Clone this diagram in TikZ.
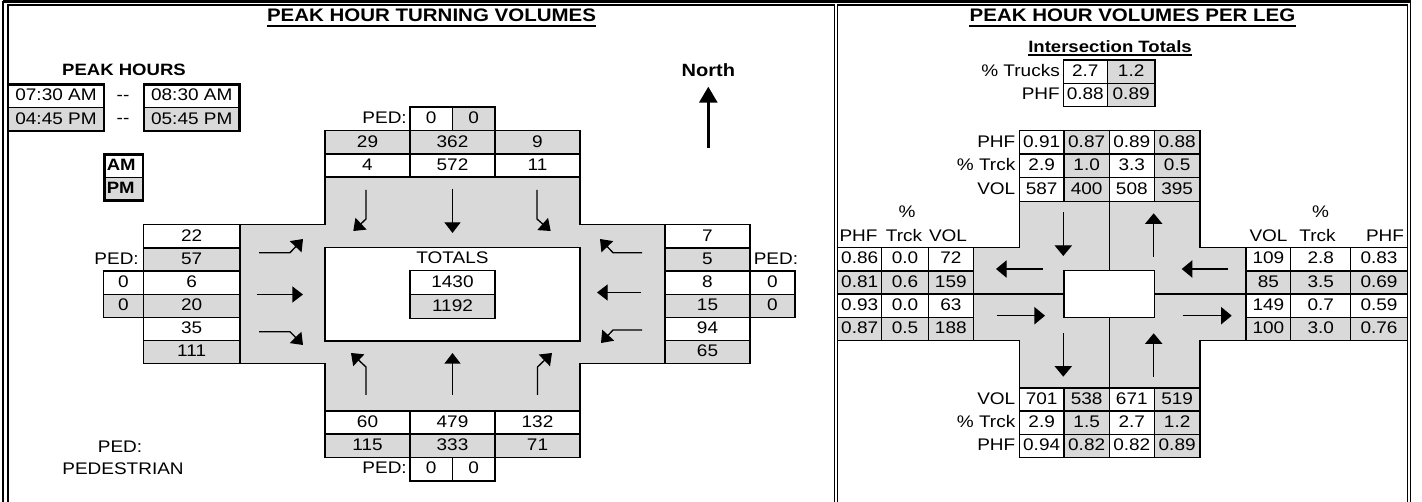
\documentclass[tikz,border=0pt]{standalone}
\usepackage{fontspec}
\setmainfont[FakeStretch=1.13]{Liberation Sans}
\usetikzlibrary{arrows.meta,calc}
\definecolor{cellgray}{RGB}{217,217,217}

% one table cell: name, x1, y1, x2, y2, fill, text
\newcommand{\volcell}[7]{%
  \draw[grid,fill=#6] (#2,#3) rectangle (#4,#5);
  \node[txt] (#1) at ($(#2,#3)!.5!(#4,#5)$) {#7};}

\begin{document}
\begin{tikzpicture}[x=0.75pt,y=-0.75pt,
font=\fontsize{12.6}{14}\selectfont,
grid/.style={line width=1.1pt},
frame/.style={line width=1.1pt},
txt/.style={inner sep=0pt,text height=.72em,text depth=0pt},
hd/.style={txt,font=\fontsize{13.6}{16}\selectfont\bfseries},
bld/.style={txt,font=\fontsize{12.3}{14}\selectfont\bfseries},
turn/.style={line width=1pt,-{Triangle[width=12pt,length=8pt]}},
flow/.style={line width=1pt,-{Triangle[width=13pt,length=8pt]}}]
\useasboundingbox (0,0) rectangle (1422,502);

% frames
\draw[line width=1.9pt] (3,1.5) -- (1410.5,1.5);
\draw[frame] (3,1.5) -- (3,502);
\draw[frame] (1410.5,1.5) -- (1410.5,502);
\draw[frame] (8,502) -- (8,5) -- (834.3,5) -- (834.3,502);
\draw[frame] (837.7,502) -- (837.7,5) -- (1407.3,5) -- (1407.3,502);

%%%% left panel: turning volumes
\node[hd] (ltitle) at (431.5,17) {PEAK HOUR TURNING VOLUMES};
\draw[line width=1.5pt] ([yshift=-3pt]ltitle.base west) -- ([yshift=-3pt]ltitle.base east);
\node[bld] (peak) at (124,71) {PEAK HOURS};
\volcell{amfrom}{8}{84.5}{104}{107.5}{white}{07:30 AM}
\volcell{pmfrom}{8}{107.5}{104}{131}{cellgray}{04:45 PM}
\volcell{amto}{144}{84.5}{239.5}{107.5}{white}{08:30 AM}
\volcell{pmto}{144}{107.5}{239.5}{131}{cellgray}{05:45 PM}
\draw[line width=2.2pt] (8,84.5) rectangle (104,131);
\draw[line width=2.2pt] (144,84.5) rectangle (239.5,131);
\node[txt] (dash1) at (123,95.5) {-{}-};
\node[txt] (dash2) at (123,119) {-{}-};
\draw[grid,fill=white] (104.5,154.5) rectangle (143,177.3);
\draw[grid,fill=cellgray] (104.5,177.3) rectangle (143,200.5);
\draw[line width=1.6pt] (104.5,154.5) rectangle (143,200.5);
\node[bld,anchor=west] (am) at (106.5,166) {AM};
\node[bld,anchor=west] (pm) at (106.5,189) {PM};

% road
\draw[grid,fill=cellgray] (325,177) -- (580,177) -- (580,224.7) -- (665,224.7)
  -- (665,363.3) -- (580,363.3) -- (580,411) -- (325,411) -- (325,363.3)
  -- (240,363.3) -- (240,224.7) -- (325,224.7) -- cycle;
\draw[grid,fill=white] (325,247.7) rectangle (580,341);
\node[txt] (totals) at (452.5,259) {TOTALS};
\volcell{totam}{410}{270.7}{495}{294.3}{white}{1430}
\volcell{totpm}{410}{294.3}{495}{318.3}{cellgray}{1192}

% north approach
\node[txt,anchor=east] (npedl) at (407,118.8) {PED:};
\volcell{nped1}{410}{107}{452.5}{130.7}{white}{0}
\volcell{nped2}{452.5}{107}{495}{130.7}{cellgray}{0}
\foreach \xl/\xr/\na/\nb [count=\i] in {325/410/29/4, 410/495/362/572, 495/580/9/11}{
  \volcell{npm\i}{\xl}{130.7}{\xr}{154}{cellgray}{\na}
  \volcell{nam\i}{\xl}{154}{\xr}{177}{white}{\nb}}

% south approach
\foreach \xl/\xr/\na/\nb [count=\i] in {325/410/60/115, 410/495/479/333, 495/580/132/71}{
  \volcell{sam\i}{\xl}{411}{\xr}{434}{white}{\na}
  \volcell{spm\i}{\xl}{434}{\xr}{457.3}{cellgray}{\nb}}
\node[txt,anchor=east] (spedl) at (407,469) {PED:};
\volcell{sped1}{410}{457.3}{452.5}{481}{white}{0}
\volcell{sped2}{452.5}{457.3}{495}{481}{white}{0}

% west and east approaches
\foreach \ya/\yb/\fc/\wa/\ea [count=\i] in {224.7/248/white/22/7, 248/271/cellgray/57/5,
    271/294.3/white/6/8, 294.3/317.7/cellgray/20/15, 317.7/340.7/white/35/94,
    340.7/363.3/cellgray/111/65}{
  \volcell{w\i}{143.3}{\ya}{240}{\yb}{\fc}{\wa}
  \volcell{e\i}{665}{\ya}{750}{\yb}{\fc}{\ea}}
\node[txt,anchor=east] (wpedl) at (139,259.5) {PED:};
\volcell{wped1}{103.3}{271}{143.3}{294.3}{white}{0}
\volcell{wped2}{103.3}{294.3}{143.3}{317.7}{cellgray}{0}
\node[txt,anchor=west] (epedl) at (753.5,259.5) {PED:};
\volcell{eped1}{750}{271}{795}{294.3}{white}{0}
\volcell{eped2}{750}{294.3}{795}{317.7}{cellgray}{0}

% movement arrows
\draw[turn] (366,190) -- (366,219) -- (353.3,231);
\draw[turn] (452.5,189) -- (452.5,233);
\draw[turn] (537,190) -- (537,219) -- (550.7,231);
\draw[turn] (366,395) -- (366,367) -- (351,353);
\draw[turn] (452.5,395) -- (452.5,353);
\draw[turn] (537.5,395) -- (537.5,367) -- (552,353);
\draw[turn] (259,252.7) -- (290,252.7) -- (303,239);
\draw[turn] (257,294.5) -- (303,294.5);
\draw[turn] (259,331.7) -- (290,331.7) -- (303,345);
\draw[turn] (642,252.7) -- (613,252.7) -- (600,239);
\draw[turn] (641,292.5) -- (597,292.5);
\draw[turn] (642,330) -- (613,330) -- (601,343);

% north sign
\node[bld,font=\fontsize{13.3}{15}\selectfont\bfseries] (north) at (708.3,72) {North};
\draw[line width=2.2pt,-{Triangle[width=13.5pt,length=12pt]}] (708.3,148.3) -- (708.3,86.7);

\node[txt] (pedkey) at (120,448) {PED:};
\node[txt] (pedtxt) at (123,470) {PEDESTRIAN};

%%%% right panel: volumes per leg
\node[hd] (rtitle) at (1132.5,17) {PEAK HOUR VOLUMES PER LEG};
\draw[line width=1.5pt] ([yshift=-3pt]rtitle.base west) -- ([yshift=-3pt]rtitle.base east);
\node[bld] (ittl) at (1110,47.5) {Intersection Totals};
\draw[line width=1.4pt] ([yshift=-1.8pt]ittl.base west) -- ([yshift=-1.8pt]ittl.base east);
\node[txt,anchor=east] (trkl) at (1060,71.7) {\% Trucks};
\node[txt,anchor=east] (phfl) at (1060,95) {PHF};
\volcell{itrk1}{1063.3}{60}{1107.3}{83.3}{white}{2.7}
\volcell{itrk2}{1107.3}{60}{1155}{83.3}{cellgray}{1.2}
\volcell{iphf1}{1063.3}{83.3}{1107.3}{106.7}{white}{0.88}
\volcell{iphf2}{1107.3}{83.3}{1155}{106.7}{cellgray}{0.89}

% road
\draw[grid,fill=cellgray] (1019.3,201.7) -- (1200,201.7) -- (1200,247.5) -- (1246,247.5)
  -- (1246,340.7) -- (1200,340.7) -- (1200,388) -- (1019.3,388) -- (1019.3,340.7)
  -- (973.3,340.7) -- (973.3,247.5) -- (1019.3,247.5) -- cycle;
\draw[grid,fill=white] (1064,270.7) rectangle (1154.3,317.3);
\draw[grid] (1109.3,201.7) -- (1109.3,270.7);
\draw[grid] (1109.3,317.3) -- (1109.3,388);
\draw[grid] (973.3,294) -- (1064,294);
\draw[grid] (1154.3,294) -- (1246,294);

% north and south legs
\foreach \ya/\yb/\lbl/\va/\vb/\vc/\vd [count=\i] in {130.7/154/PHF/0.91/0.87/0.89/0.88,
    154/177.7/\% Trck/2.9/1.0/3.3/0.5, 177.7/201.7/VOL/587/400/508/395}{
  \node[txt,anchor=east] (nl\i) at (1015.5,{(\ya+\yb)/2}) {\lbl};
  \volcell{nl\i a}{1019.3}{\ya}{1064}{\yb}{white}{\va}
  \volcell{nl\i b}{1064}{\ya}{1109.3}{\yb}{cellgray}{\vb}
  \volcell{nl\i c}{1109.3}{\ya}{1154.3}{\yb}{white}{\vc}
  \volcell{nl\i d}{1154.3}{\ya}{1200}{\yb}{cellgray}{\vd}}
\foreach \ya/\yb/\lbl/\va/\vb/\vc/\vd [count=\i] in {388/411/VOL/701/538/671/519,
    411/434.3/\% Trck/2.9/1.5/2.7/1.2, 434.3/457.3/PHF/0.94/0.82/0.82/0.89}{
  \node[txt,anchor=east] (sl\i) at (1015.5,{(\ya+\yb)/2}) {\lbl};
  \volcell{sl\i a}{1019.3}{\ya}{1064}{\yb}{white}{\va}
  \volcell{sl\i b}{1064}{\ya}{1109.3}{\yb}{cellgray}{\vb}
  \volcell{sl\i c}{1109.3}{\ya}{1154.3}{\yb}{white}{\vc}
  \volcell{sl\i d}{1154.3}{\ya}{1200}{\yb}{cellgray}{\vd}}

% west and east legs
\node[txt] (wpct) at (907,213) {\%};
\node[txt] (wphf) at (858.5,236.5) {PHF};
\node[txt] (wtrk) at (904,236.5) {Trck};
\node[txt] (wvol) at (948,236.5) {VOL};
\node[txt] (epct) at (1320.5,213) {\%};
\node[txt] (evol) at (1268.5,236.5) {VOL};
\node[txt] (etrk) at (1317.5,236.5) {Trck};
\node[txt] (ephf) at (1385,236.5) {PHF};
\foreach \ya/\yb/\fc/\wa/\wb/\wc/\ea/\eb/\ec [count=\i] in
    {247.5/270.8/white/0.86/0.0/72/109/2.8/0.83, 270.8/294/cellgray/0.81/0.6/159/85/3.5/0.69,
     294/317.5/white/0.93/0.0/63/149/0.7/0.59, 317.5/340.7/cellgray/0.87/0.5/188/100/3.0/0.76}{
  \volcell{wl\i a}{837.7}{\ya}{881.7}{\yb}{\fc}{\wa}
  \volcell{wl\i b}{881.7}{\ya}{928.3}{\yb}{\fc}{\wb}
  \volcell{wl\i c}{928.3}{\ya}{973.3}{\yb}{\fc}{\wc}
  \volcell{el\i a}{1246}{\ya}{1290.7}{\yb}{\fc}{\ea}
  \volcell{el\i b}{1290.7}{\ya}{1350.7}{\yb}{\fc}{\eb}
  \volcell{el\i c}{1350.7}{\ya}{1407.3}{\yb}{\fc}{\ec}}

% leg arrows
\draw[flow] (1063.3,212.3) -- (1063.3,256);
\draw[flow] (1153.7,256.7) -- (1153.7,213.3);
\draw[flow] (1042.7,269) -- (996,269);
\draw[flow] (997.3,315.7) -- (1045,315.7);
\draw[flow] (1228.3,269) -- (1181.7,269);
\draw[flow] (1182.7,315.7) -- (1231.7,315.7);
\draw[flow] (1063.3,333.3) -- (1063.3,376.7);
\draw[flow] (1153.7,376.7) -- (1153.7,333.3);
\end{tikzpicture}
\end{document}
